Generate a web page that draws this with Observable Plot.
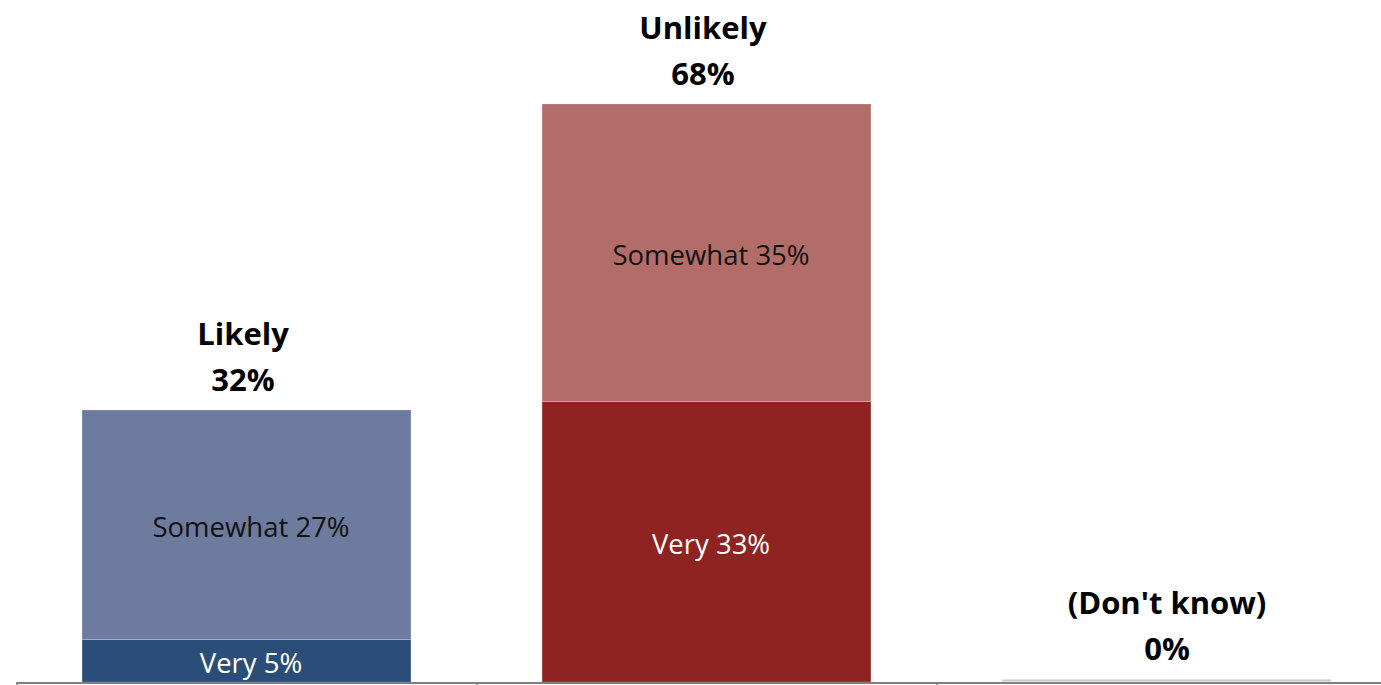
<!DOCTYPE html>
<html>
<head>
<meta charset="utf-8">
<script src="https://cdn.jsdelivr.net/npm/d3@7"></script>
<script src="https://cdn.jsdelivr.net/npm/@observablehq/plot@0.6"></script>
<style>
  html, body { margin: 0; padding: 0; background: #ffffff; }
  #chart svg { display: block; }
</style>
</head>
<body>
<div id="chart"></div>
<script>
// Data
const groups = ["Likely", "Unlikely", "(Don't know)"];
const groupTotals = [32, 68, 0];
const segmentNames = ["Very", "Somewhat"];
const veryValues = [5, 33, 0];
const somewhatValues = [27, 35, 0];
const groupTickBoundaries = [0, 1, 2, 3];

const segColors = {
  "Likely|Very": "#2a4e79",
  "Likely|Somewhat": "#6d7b9f",
  "Unlikely|Very": "#8e2322",
  "Unlikely|Somewhat": "#b36d69"
};
const segTextColors = {
  "Likely|Very": "#ffffff",
  "Likely|Somewhat": "#111111",
  "Unlikely|Very": "#ffffff",
  "Unlikely|Somewhat": "#111111"
};

// Build segment rows
const segments = [];
groups.forEach((g, i) => {
  let base = 0;
  [veryValues[i], somewhatValues[i]].forEach((v, j) => {
    if (v > 0) {
      segments.push({group: g, idx: i, name: segmentNames[j], value: v, y1: base, y2: base + v,
        key: g + "|" + segmentNames[j]});
    }
    base += v;
  });
});
const totals = groups.map((g, i) => ({group: g, idx: i, total: groupTotals[i]}));

const pad = 0.1425;
const W = 1381, H = 685;

const chart = Plot.plot({
  width: W,
  height: H,
  marginTop: 104,
  marginBottom: 3,
  marginLeft: 16.5,
  marginRight: 0,
  x: {type: "linear", domain: [0, 3], range: [16.5, 1396.5], axis: null},
  y: {domain: [0, 68], axis: null},
  style: {fontFamily: "'Open Sans', 'Noto Sans', sans-serif", background: "#ffffff", overflow: "visible"},
  marks: [
    Plot.rectY(segments, {
      x1: d => d.idx + pad, x2: d => d.idx + 1 - pad,
      y1: "y1", y2: "y2",
      fill: d => segColors[d.key],
      stroke: "#ffffff", strokeOpacity: 0.2, strokeWidth: 1
    }),
    // zero-height bar for (Don't know)
    Plot.ruleY(totals.filter(d => d.total === 0), {
      x1: d => d.idx + pad, x2: d => d.idx + 1 - pad, y: "total",
      stroke: "#c8c8c8", strokeWidth: 2, dy: -2
    }),
    // baseline axis
    Plot.axisX({ticks: groupTickBoundaries, tickFormat: () => "", tickSize: 3, stroke: "#7f7f7f", strokeWidth: 1.5, anchor: "bottom"}),
    Plot.ruleY([0], {x1: 0, x2: 3, stroke: "#7f7f7f", strokeWidth: 2, dy: 0.5}),
    // segment labels
    Plot.text(segments, {
      x: d => d.idx + 0.5, y: d => (d.y1 + d.y2) / 2,
      text: d => `${d.name} ${d.value}%`,
      fill: d => segTextColors[d.key],
      fontSize: 27.5, dx: 4, dy: 3
    }),
    // group labels
    Plot.text(totals.filter(d => d.total > 0), {
      x: d => d.idx + 0.5, y: "total",
      text: d => `${d.group}\n${d.total}%`,
      lineAnchor: "bottom", lineHeight: 1.48,
      fontSize: 31, fontWeight: "bold", fill: "#000000", dy: -20, dx: -4
    }),
    Plot.text(totals.filter(d => d.total === 0), {
      x: d => d.idx + 0.5, y: "total",
      text: d => `${d.group}\n${d.total}%`,
      lineAnchor: "bottom", lineHeight: 1.48,
      fontSize: 31, fontWeight: "bold", fill: "#000000", dy: -23, dx: 0
    })
  ]
});
document.getElementById("chart").appendChild(chart);
</script>
</body>
</html>
